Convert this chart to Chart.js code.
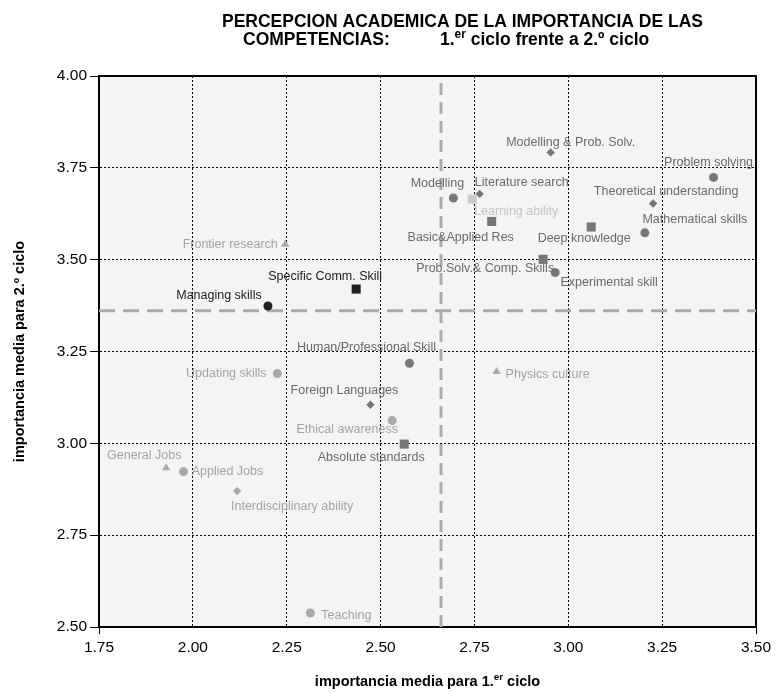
<!DOCTYPE html>
<html>
<head>
<meta charset="utf-8">
<script src="https://cdn.jsdelivr.net/npm/chart.js@4.4.1/dist/chart.umd.min.js"></script>
<style>
  html, body { margin: 0; padding: 0; background: #fff; }
</style>
</head>
<body>
<canvas id="scatter" width="777" height="693"></canvas>
<script>
// Datos
const skills = [
  'Modelling & Prob. Solv.', 'Problem solving', 'Modelling', 'Literature search',
  'Learning ability', 'Theoretical understanding', 'Basic&Applied Res', 'Deep knowledge',
  'Mathematical skills', 'Prob.Solv.& Comp. Skills', 'Experimental skill', 'Frontier research',
  'Specific Comm. Skill', 'Managing skills', 'Human/Professional Skill', 'Updating skills',
  'Physics culture', 'Foreign Languages', 'Ethical awareness', 'Absolute standards',
  'General Jobs', 'Applied Jobs', 'Interdisciplinary ability', 'Teaching'
];
const firstCycle = [
  2.953, 3.387, 2.694, 2.764, 2.744, 3.226, 2.796, 3.061,
  3.204, 2.933, 2.965, 2.246, 2.435, 2.200, 2.577, 2.225,
  2.809, 2.473, 2.531, 2.563, 1.929, 1.975, 2.118, 2.313
];
const secondCycle = [
  3.792, 3.724, 3.668, 3.679, 3.665, 3.653, 3.604, 3.589,
  3.573, 3.501, 3.465, 3.542, 3.420, 3.374, 3.218, 3.190,
  3.195, 3.105, 3.062, 2.998, 2.933, 2.923, 2.870, 2.538
];
const meanFirst = 2.661;
const meanSecond = 3.361;
const xTicks = [1.75, 2.00, 2.25, 2.50, 2.75, 3.00, 3.25, 3.50];
const yTicks = [2.50, 2.75, 3.00, 3.25, 3.50, 3.75, 4.00];

// estilos de cada punto (forma y tono)
const shapes = [
  'rectRot', 'circle', 'circle', 'rectRot', 'rect', 'rectRot', 'rect', 'rect',
  'circle', 'rect', 'circle', 'triangle', 'rect', 'circle', 'circle', 'circle',
  'triangle', 'rectRot', 'circle', 'rect', 'triangle', 'circle', 'rectRot', 'circle'
];
const tones = [
  'mid', 'mid', 'mid', 'mid', 'pale', 'mid', 'mid', 'mid',
  'mid', 'mid', 'mid', 'light', 'dark', 'dark', 'mid', 'light',
  'light', 'mid', 'light', 'mid', 'light', 'light', 'light', 'light'
];
const toneColor = { dark: '#202020', mid: '#777777', light: '#a9a9a9', pale: '#cbcbcb' };
const toneText = { dark: '#1a1a1a', mid: '#6a6a6a', light: '#a3a3a3', pale: '#c4c4c4' };
const shapeSize = { circle: 4.5, rect: 6.4, rectRot: 4.2, triangle: 4.8 };

// posicion de las etiquetas respecto al punto (centro del texto)
const labelOffsets = [
  [20, -10], [-5, -15], [-16, -14], [42, -11], [44, 12], [13, -12], [-31, 16], [-7, 12],
  [50, -13], [-58, 9], [54, 10], [-55, 0], [-31, -13], [-49, -10], [-43, -16], [-51, 0],
  [51, 3], [-26, -14], [-45, 9], [-33, 13], [-22, -12], [44, 0], [55, 15], [36, 3]
];

const FONT = "'Liberation Sans', Arial, sans-serif";

function drawRich(ctx, parts, x, y, size, weight, family) {
  let cx = x;
  parts.forEach(p => {
    const s = p.sup ? size * 0.68 : size;
    ctx.font = weight + ' ' + s + 'px ' + family;
    ctx.fillText(p.t, cx, p.sup ? y - size * 0.42 : y);
    cx += ctx.measureText(p.t).width;
  });
  return cx - x;
}

function richWidth(ctx, parts, size, weight, family) {
  let w = 0;
  parts.forEach(p => {
    ctx.font = weight + ' ' + (p.sup ? size * 0.68 : size) + 'px ' + family;
    w += ctx.measureText(p.t).width;
  });
  return w;
}

const framePlugin = {
  id: 'frame',
  beforeDraw(chart) {
    const { ctx, chartArea: a } = chart;
    ctx.save();
    ctx.fillStyle = '#f4f4f4';
    ctx.fillRect(a.left, a.top, a.right - a.left, a.bottom - a.top);
    ctx.restore();
  },
  beforeDatasetsDraw(chart) {
    const { ctx, chartArea: a } = chart;
    ctx.save();
    ctx.strokeStyle = '#000';
    ctx.lineWidth = 2;
    ctx.strokeRect(a.left, a.top, a.right - a.left, a.bottom - a.top);
    ctx.restore();
  },
  afterDatasetsDraw(chart) {
    const { ctx } = chart;
    const meta = chart.getDatasetMeta(2);
    ctx.save();
    ctx.font = '12.5px ' + FONT;
    ctx.textAlign = 'center';
    ctx.textBaseline = 'middle';
    meta.data.forEach((pt, i) => {
      ctx.fillStyle = toneText[tones[i]];
      ctx.fillText(skills[i], pt.x + labelOffsets[i][0], pt.y + labelOffsets[i][1]);
    });
    ctx.restore();
  },
  afterDraw(chart) {
    const { ctx, chartArea: a } = chart;
    ctx.save();
    ctx.fillStyle = '#000';
    ctx.textBaseline = 'alphabetic';
    ctx.textAlign = 'left';
    // titulo
    drawRich(ctx, [{ t: 'PERCEPCION ACADEMICA DE LA IMPORTANCIA DE LAS' }], 222, 27, 17.5, 'bold', FONT);
    drawRich(ctx, [{ t: 'COMPETENCIAS:' }], 243, 45, 17.5, 'bold', FONT);
    drawRich(ctx, [{ t: '1.' }, { t: 'er', sup: true }, { t: ' ciclo frente a 2.º ciclo' }], 440, 45, 17.5, 'bold', FONT);
    // titulo eje x
    const xt = [{ t: 'importancia media para 1.' }, { t: 'er', sup: true }, { t: ' ciclo' }];
    const xw = richWidth(ctx, xt, 14.5, 'bold', FONT);
    drawRich(ctx, xt, (a.left + a.right) / 2 - xw / 2, 686, 14.5, 'bold', FONT);
    // titulo eje y
    const yt = [{ t: 'importancia media para 2.º ciclo' }];
    const yw = richWidth(ctx, yt, 14.5, 'bold', FONT);
    ctx.translate(24, (a.top + a.bottom) / 2);
    ctx.rotate(-Math.PI / 2);
    drawRich(ctx, yt, -yw / 2, 0, 14.5, 'bold', FONT);
    ctx.restore();
  }
};

const ctx = document.getElementById('scatter').getContext('2d');

new Chart(ctx, {
  type: 'scatter',
  data: {
    datasets: [
      {
        type: 'line',
        data: [{ x: meanFirst, y: yTicks[0] }, { x: meanFirst, y: yTicks[yTicks.length - 1] }],
        borderColor: '#ababab',
        borderWidth: 3,
        borderDash: [12, 7],
        pointRadius: 0,
        order: 3
      },
      {
        type: 'line',
        data: [{ x: xTicks[0], y: meanSecond }, { x: xTicks[xTicks.length - 1], y: meanSecond }],
        borderColor: '#ababab',
        borderWidth: 3,
        borderDash: [16, 8],
        pointRadius: 0,
        order: 2
      },
      {
        data: firstCycle.map((v, i) => ({ x: v, y: secondCycle[i] })),
        pointStyle: shapes,
        pointRadius: shapes.map(s => shapeSize[s]),
        pointBackgroundColor: tones.map(t => toneColor[t]),
        pointBorderColor: tones.map(t => toneColor[t]),
        pointBorderWidth: 0,
        order: 1
      }
    ]
  },
  options: {
    responsive: false,
    animation: false,
    layout: { padding: { left: 0, right: 21, top: 76, bottom: 0 } },
    plugins: {
      legend: { display: false },
      tooltip: { enabled: false }
    },
    scales: {
      x: {
        type: 'linear',
        min: xTicks[0],
        max: xTicks[xTicks.length - 1],
        afterBuildTicks: s => { s.ticks = xTicks.map(v => ({ value: v })); },
        afterFit: s => { s.height = 66; },
        grid: {
          color: '#000',
          lineWidth: 1,
          tickLength: 7,
          tickColor: c => (c.index === 0 || c.index === xTicks.length - 1) ? '#000' : 'rgba(0,0,0,0)'
        },
        border: { display: true, color: '#000', width: 2, dash: [2, 2] },
        ticks: {
          color: '#000',
          padding: 4,
          font: { family: FONT, size: 15.5 },
          callback: v => Number(v).toFixed(2)
        }
      },
      y: {
        type: 'linear',
        min: yTicks[0],
        max: yTicks[yTicks.length - 1],
        afterBuildTicks: s => { s.ticks = yTicks.map(v => ({ value: v })); },
        afterFit: s => { s.width = 99; },
        grid: {
          color: '#000',
          lineWidth: 1,
          tickLength: 9,
          tickColor: '#000'
        },
        border: { display: true, color: '#000', width: 2, dash: [2, 2] },
        ticks: {
          color: '#000',
          padding: 3,
          font: { family: FONT, size: 15.5 },
          callback: v => Number(v).toFixed(2)
        }
      }
    }
  },
  plugins: [framePlugin]
});
</script>
</body>
</html>
